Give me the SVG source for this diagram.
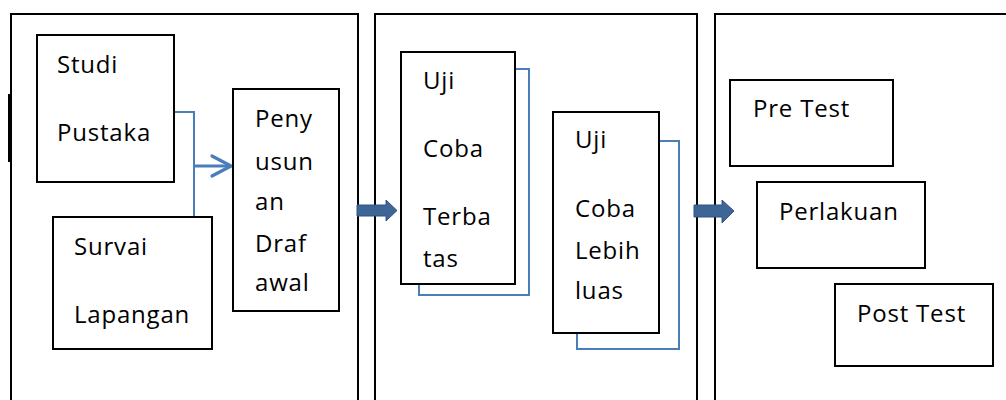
<svg xmlns="http://www.w3.org/2000/svg" width="1006" height="400" viewBox="0 0 1006 400">
  <style>
    .panel { fill: none; stroke: #000; stroke-width: 2; }
    .box { fill: #fff; stroke: #000; stroke-width: 2; }
    .label { font-family: "Open Sans", "Noto Sans", sans-serif; font-size: 24px; font-weight: 500; letter-spacing: 0.8px; fill: #000; }
    .link { fill: none; stroke: #4a7ebb; stroke-width: 2; }
    .open-arrow { fill: none; stroke: #4a7ebb; stroke-width: 3.2; stroke-linecap: round; stroke-linejoin: round; }
    .block-arrow { fill: #3d6595; stroke: #2f5582; stroke-width: 1; }
  </style>
  <rect width="1006" height="400" fill="#fff"/>

  <!-- three stage panels, open at the bottom -->
  <g id="panels">
    <path class="panel" d="M11 400 V14 H358 V400"/>
    <path class="panel" d="M375 400 V14 H697 V400"/>
    <path class="panel" d="M715 400 V14 H1010"/>
    <rect x="8" y="94" width="3" height="68" fill="#000"/>
  </g>

  <!-- connectors -->
  <g id="connectors">
    <path class="link" d="M174 112 H194 V217"/>
    <path class="open-arrow" d="M195 166 H230"/>
    <path class="open-arrow" d="M212 156 L231 166 L212 176"/>
    <path class="link" d="M515 69 H529 V295 H419 V284"/>
    <path class="link" d="M659 141 H679 V349 H577 V333"/>
    <path class="block-arrow" d="M357 205 H386 V200 L397 210.5 L386 221 V216 H357 Z"/>
    <path class="block-arrow" d="M694 205 H722 V200 L734 211 L722 223 V217 H694 Z"/>
  </g>

  <g id="studi-pustaka">
    <rect class="box" x="37" y="35" width="137" height="147"/>
    <text class="label" x="57" y="73">Studi</text>
    <text class="label" x="57" y="141">Pustaka</text>
  </g>

  <g id="survai-lapangan">
    <rect class="box" x="53" y="217" width="159" height="132"/>
    <text class="label" x="74" y="255">Survai</text>
    <text class="label" x="74" y="323">Lapangan</text>
  </g>

  <g id="penyusunan-draf">
    <rect class="box" x="233" y="89" width="106" height="222"/>
    <text class="label" x="255" y="127">Peny</text>
    <text class="label" x="255" y="170">usun</text>
    <text class="label" x="255" y="210">an</text>
    <text class="label" x="255" y="252">Draf</text>
    <text class="label" x="255" y="291">awal</text>
  </g>

  <g id="uji-coba-terbatas">
    <rect class="box" x="401" y="52" width="114" height="232"/>
    <text class="label" x="423" y="89">Uji</text>
    <text class="label" x="423" y="157">Coba</text>
    <text class="label" x="423" y="225">Terba</text>
    <text class="label" x="423" y="267">tas</text>
  </g>

  <g id="uji-coba-lebih-luas">
    <rect class="box" x="553" y="112" width="106" height="221"/>
    <text class="label" x="575" y="148">Uji</text>
    <text class="label" x="575" y="217">Coba</text>
    <text class="label" x="575" y="259">Lebih</text>
    <text class="label" x="575" y="299">luas</text>
  </g>

  <g id="pre-test">
    <rect class="box" x="730" y="80" width="163" height="86"/>
    <text class="label" x="753" y="117">Pre Test</text>
  </g>

  <g id="perlakuan">
    <rect class="box" x="757" y="182" width="168" height="86"/>
    <text class="label" x="779" y="220">Perlakuan</text>
  </g>

  <g id="post-test">
    <rect class="box" x="835" y="284" width="158" height="82"/>
    <text class="label" x="857" y="322">Post Test</text>
  </g>
</svg>
